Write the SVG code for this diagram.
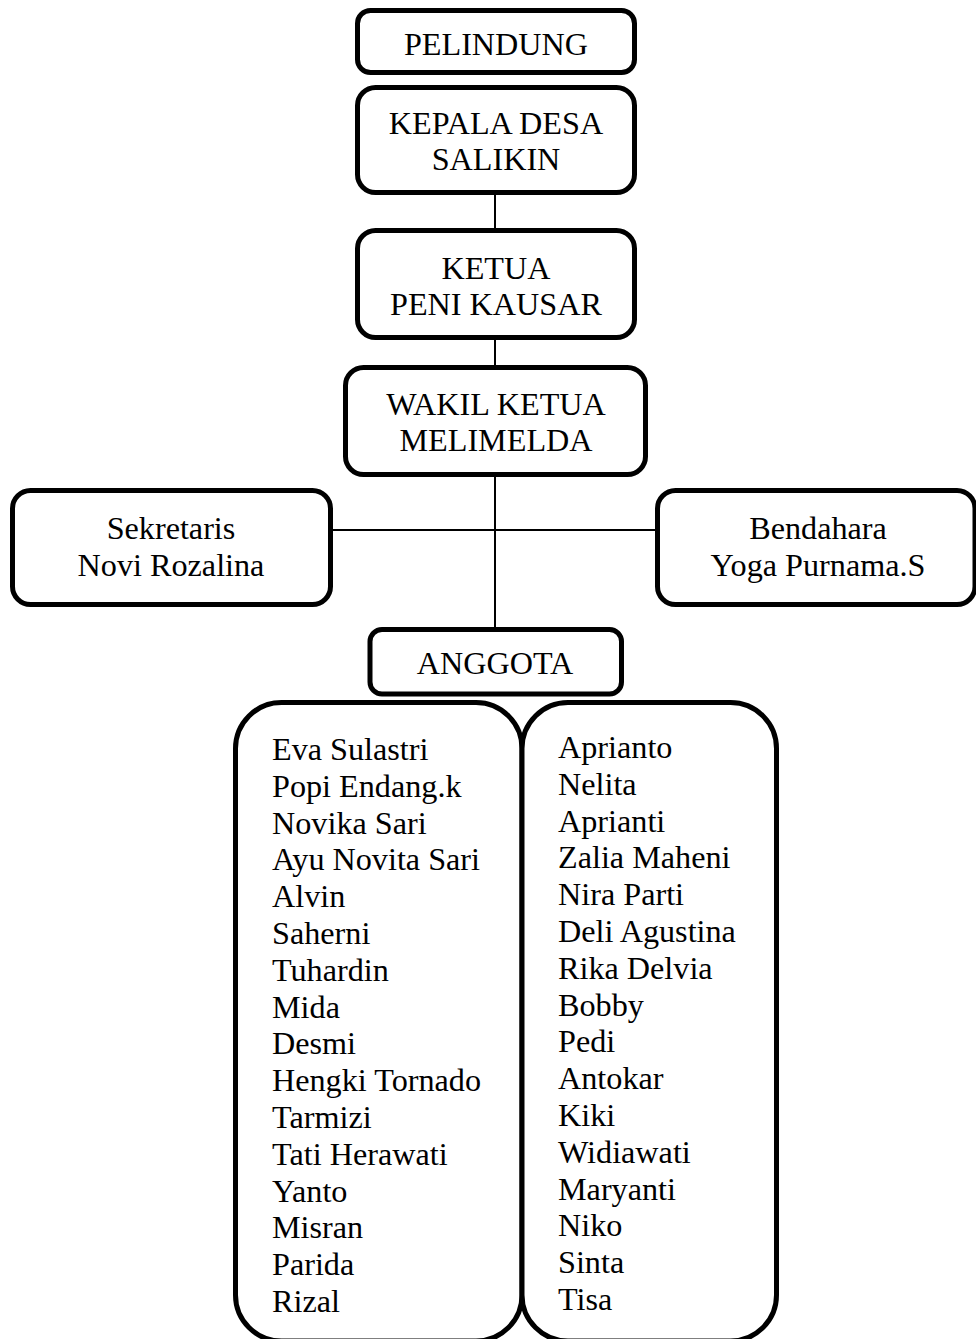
<svg xmlns="http://www.w3.org/2000/svg" width="976" height="1339" viewBox="0 0 976 1339">
<style>
.box{fill:#fff;stroke:#000;stroke-width:5}
.t{font-family:'Liberation Serif','Times New Roman',serif;font-size:32.2px;fill:#000}
.c{text-anchor:middle}
.ln{stroke:#000;stroke-width:2;fill:none}
</style>
<rect width="976" height="1339" fill="#fff"/>
<g id="connectors">
<line class="ln" x1="495" y1="192" x2="495" y2="231"/>
<line class="ln" x1="495" y1="337" x2="495" y2="368"/>
<line class="ln" x1="495" y1="474" x2="495" y2="630"/>
<line class="ln" x1="330" y1="530" x2="658" y2="530"/>
</g>
<g id="pelindung">
<rect class="box" x="357.5" y="10.5" width="277" height="62" rx="13"/>
<text class="t c" x="496" y="55">PELINDUNG</text>
</g>
<g id="kepala-desa">
<rect class="box" x="357.5" y="87.5" width="277" height="105" rx="18"/>
<text class="t c" x="496" y="134">KEPALA DESA</text>
<text class="t c" x="496" y="170">SALIKIN</text>
</g>
<g id="ketua">
<rect class="box" x="357.5" y="230.5" width="277" height="107" rx="18"/>
<text class="t c" x="496" y="279">KETUA</text>
<text class="t c" x="496" y="315">PENI KAUSAR</text>
</g>
<g id="wakil-ketua">
<rect class="box" x="345.5" y="367.5" width="300" height="107" rx="18"/>
<text class="t c" x="496" y="415">WAKIL KETUA</text>
<text class="t c" x="496" y="451">MELIMELDA</text>
</g>
<g id="sekretaris">
<rect class="box" x="12.5" y="490.5" width="318" height="114" rx="18"/>
<text class="t c" x="171" y="539">Sekretaris</text>
<text class="t c" x="171" y="576">Novi Rozalina</text>
</g>
<g id="bendahara">
<rect class="box" x="657.5" y="490.5" width="317.5" height="114" rx="18"/>
<text class="t c" x="818" y="539">Bendahara</text>
<text class="t c" x="818" y="576">Yoga Purnama.S</text>
</g>
<g id="anggota">
<rect class="box" x="370" y="629.5" width="251.5" height="64.5" rx="12"/>
<text class="t c" x="495" y="674">ANGGOTA</text>
</g>
<g id="anggota-kiri">
<rect class="box" x="235.5" y="702.5" width="286.5" height="638.5" rx="46"/>
<text class="t" x="272" y="760">Eva Sulastri</text>
<text class="t" x="272" y="796.8">Popi Endang.k</text>
<text class="t" x="272" y="833.6">Novika Sari</text>
<text class="t" x="272" y="870.4">Ayu Novita Sari</text>
<text class="t" x="272" y="907.2">Alvin</text>
<text class="t" x="272" y="944">Saherni</text>
<text class="t" x="272" y="980.8">Tuhardin</text>
<text class="t" x="272" y="1017.6">Mida</text>
<text class="t" x="272" y="1054.4">Desmi</text>
<text class="t" x="272" y="1091.2">Hengki Tornado</text>
<text class="t" x="272" y="1128">Tarmizi</text>
<text class="t" x="272" y="1164.8">Tati Herawati</text>
<text class="t" x="272" y="1201.6">Yanto</text>
<text class="t" x="272" y="1238.4">Misran</text>
<text class="t" x="272" y="1275.2">Parida</text>
<text class="t" x="272" y="1312">Rizal</text>
</g>
<g id="anggota-kanan">
<rect class="box" x="522" y="702.5" width="254.5" height="638.5" rx="46"/>
<text class="t" x="558" y="758">Aprianto</text>
<text class="t" x="558" y="794.8">Nelita</text>
<text class="t" x="558" y="831.6">Aprianti</text>
<text class="t" x="558" y="868.4">Zalia Maheni</text>
<text class="t" x="558" y="905.2">Nira Parti</text>
<text class="t" x="558" y="942">Deli Agustina</text>
<text class="t" x="558" y="978.8">Rika Delvia</text>
<text class="t" x="558" y="1015.6">Bobby</text>
<text class="t" x="558" y="1052.4">Pedi</text>
<text class="t" x="558" y="1089.2">Antokar</text>
<text class="t" x="558" y="1126">Kiki</text>
<text class="t" x="558" y="1162.8">Widiawati</text>
<text class="t" x="558" y="1199.6">Maryanti</text>
<text class="t" x="558" y="1236.4">Niko</text>
<text class="t" x="558" y="1273.2">Sinta</text>
<text class="t" x="558" y="1310">Tisa</text>
</g>
</svg>
